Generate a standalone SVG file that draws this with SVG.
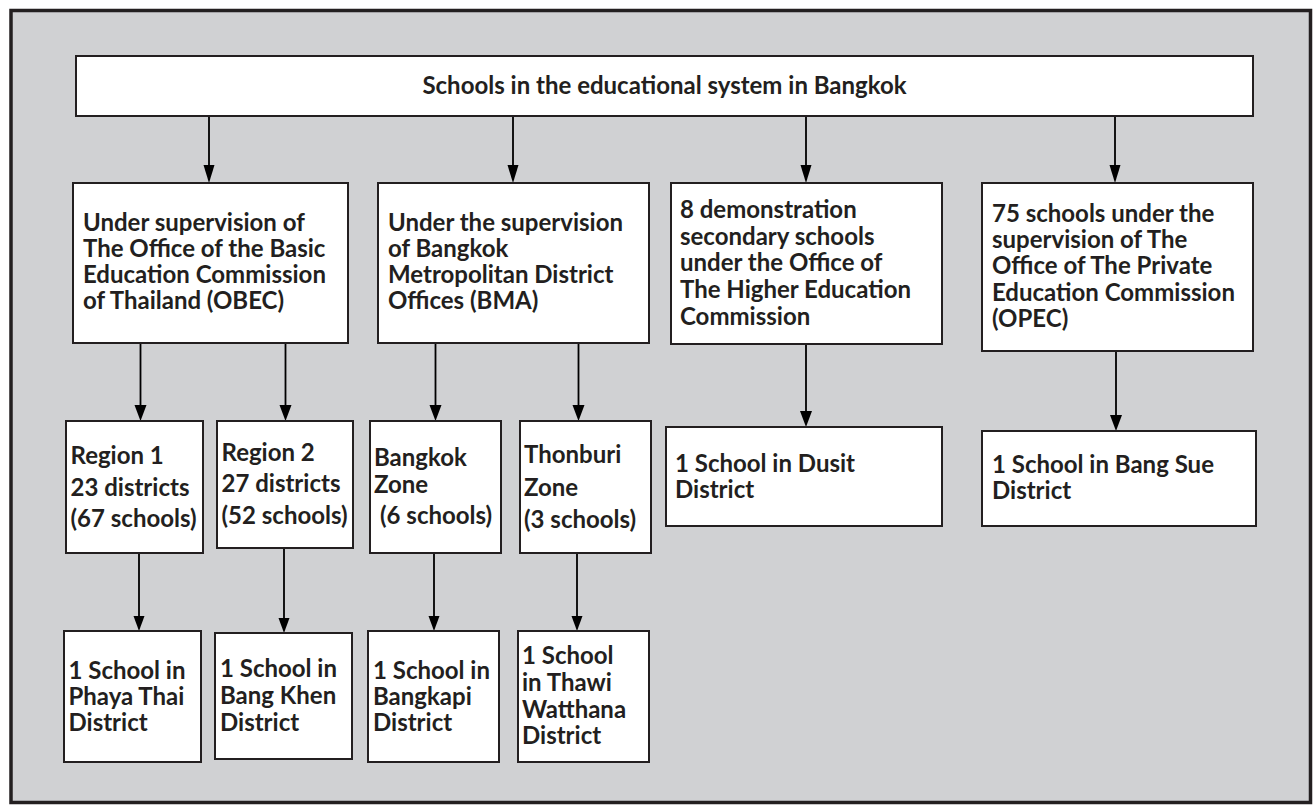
<svg xmlns="http://www.w3.org/2000/svg" width="1314" height="807" viewBox="0 0 1314 807">
<defs>
<style>
.frame{fill:#d0d1d3;stroke:#231f20;stroke-width:3.5}
.box{fill:#ffffff;stroke:#231f20;stroke-width:2}
.t{font-family:Lato,"Open Sans","Liberation Sans",sans-serif;font-weight:bold;font-size:24px;fill:#231f20}
.ln{stroke:#000;stroke-width:1.8;fill:none}
.ah{fill:#000}
</style>
</defs>
<rect x="0" y="0" width="1314" height="807" fill="#ffffff"/>
<rect class="frame" x="11" y="10.5" width="1299.5" height="792"/>

<g id="connectors">
<path class="ln" d="M209 116V168M513 116V168M806 116V168M1115 116V168"/>
<path class="ln" d="M140.5 343V408M285.5 343V408M435.5 343V408M578.5 343V408M806 344V414M1116 351V418"/>
<path class="ln" d="M139 553V618M284 548V620M434 553V618M577 553V618"/>
<g class="ah">
<polygon points="203.5,165 214.5,165 209,183"/>
<polygon points="507.5,165 518.5,165 513,183"/>
<polygon points="800.5,165 811.5,165 806,183"/>
<polygon points="1109.5,165 1120.5,165 1115,183"/>
<polygon points="134.5,405 146.5,405 140.5,421"/>
<polygon points="279.5,405 291.5,405 285.5,421"/>
<polygon points="429.5,405 441.5,405 435.5,421"/>
<polygon points="572.5,405 584.5,405 578.5,421"/>
<polygon points="800,411 812,411 806,427"/>
<polygon points="1110,415 1122,415 1116,431"/>
<polygon points="133.5,616 144.5,616 139,631"/>
<polygon points="278.5,618 289.5,618 284,633"/>
<polygon points="428.5,616 439.5,616 434,631"/>
<polygon points="571.5,616 582.5,616 577,631"/>
</g>
</g>

<g id="root">
<rect class="box" x="76" y="56" width="1177" height="60"/>
<text class="t" x="664.5" y="94" text-anchor="middle">Schools in the educational system in Bangkok</text>
</g>

<g id="obec">
<rect class="box" x="73" y="183" width="275" height="160"/>
<text class="t"><tspan x="83" y="231">Under supervision of</tspan><tspan x="83" y="257">The Office of the Basic</tspan><tspan x="83" y="283">Education Commission</tspan><tspan x="83" y="309">of Thailand (OBEC)</tspan></text>
</g>

<g id="bma">
<rect class="box" x="378" y="183" width="271" height="160"/>
<text class="t"><tspan x="388" y="231">Under the supervision</tspan><tspan x="388" y="257">of Bangkok</tspan><tspan x="388" y="283">Metropolitan District</tspan><tspan x="388" y="309">Offices (BMA)</tspan></text>
</g>

<g id="ohec">
<rect class="box" x="671" y="183" width="271" height="161"/>
<text class="t"><tspan x="680" y="218">8 demonstration</tspan><tspan x="680" y="245">secondary schools</tspan><tspan x="680" y="271">under the Office of</tspan><tspan x="680" y="298">The Higher Education</tspan><tspan x="680" y="325">Commission</tspan></text>
</g>

<g id="opec">
<rect class="box" x="982" y="183" width="271" height="168"/>
<text class="t"><tspan x="992" y="222">75 schools under the</tspan><tspan x="992" y="248">supervision of The</tspan><tspan x="992" y="274">Office of The Private</tspan><tspan x="992" y="301">Education Commission</tspan><tspan x="992" y="327">(OPEC)</tspan></text>
</g>

<g id="region1">
<rect class="box" x="66" y="421" width="137" height="132"/>
<text class="t"><tspan x="70.5" y="464">Region 1</tspan><tspan x="70.5" y="496">23 districts</tspan><tspan x="70.5" y="527">(67 schools)</tspan></text>
</g>

<g id="region2">
<rect class="box" x="217" y="421" width="136" height="127"/>
<text class="t"><tspan x="221.5" y="461">Region 2</tspan><tspan x="221.5" y="492">27 districts</tspan><tspan x="221.5" y="524">(52 schools)</tspan></text>
</g>

<g id="bangkok-zone">
<rect class="box" x="370" y="421" width="131" height="132"/>
<text class="t"><tspan x="374" y="466">Bangkok</tspan><tspan x="374" y="493">Zone</tspan><tspan x="380" y="524">(6 schools)</tspan></text>
</g>

<g id="thonburi-zone">
<rect class="box" x="520" y="421" width="131" height="132"/>
<text class="t"><tspan x="524" y="463">Thonburi</tspan><tspan x="524" y="496">Zone</tspan><tspan x="524" y="528">(3 schools)</tspan></text>
</g>

<g id="dusit">
<rect class="box" x="666" y="427" width="276" height="99"/>
<text class="t"><tspan x="675" y="472">1 School in Dusit</tspan><tspan x="675" y="498">District</tspan></text>
</g>

<g id="bang-sue">
<rect class="box" x="982" y="431" width="274" height="95"/>
<text class="t"><tspan x="992" y="473">1 School in Bang Sue</tspan><tspan x="992" y="499">District</tspan></text>
</g>

<g id="phaya-thai">
<rect class="box" x="64" y="631" width="137" height="131"/>
<text class="t"><tspan x="68.5" y="679">1 School in</tspan><tspan x="68.5" y="705">Phaya Thai</tspan><tspan x="68.5" y="731">District</tspan></text>
</g>

<g id="bang-khen">
<rect class="box" x="215" y="633" width="137" height="126"/>
<text class="t"><tspan x="220" y="677">1 School in</tspan><tspan x="220" y="704">Bang Khen</tspan><tspan x="220" y="731">District</tspan></text>
</g>

<g id="bangkapi">
<rect class="box" x="368" y="631" width="131" height="131"/>
<text class="t"><tspan x="373" y="679">1 School in</tspan><tspan x="373" y="705">Bangkapi</tspan><tspan x="373" y="731">District</tspan></text>
</g>

<g id="thawi-watthana">
<rect class="box" x="518" y="631" width="131" height="131"/>
<text class="t"><tspan x="522" y="664">1 School</tspan><tspan x="522" y="691">in Thawi</tspan><tspan x="522" y="718">Watthana</tspan><tspan x="522" y="744">District</tspan></text>
</g>
</svg>
